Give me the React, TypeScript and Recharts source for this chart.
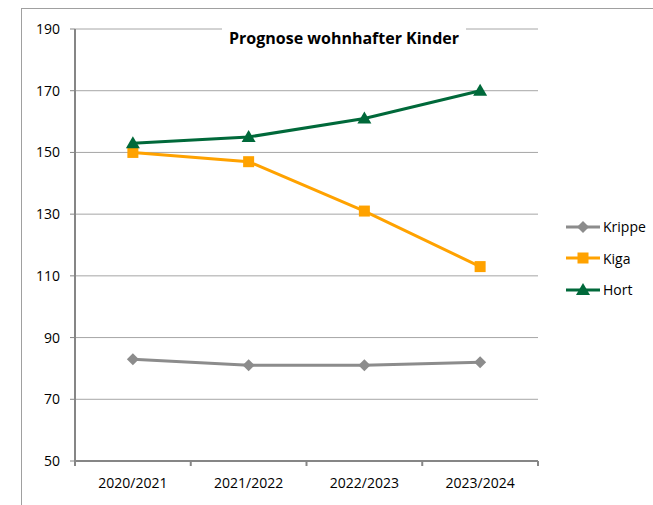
import { LineChart, Line, XAxis, YAxis, CartesianGrid } from "recharts";

const categories = ["2020/2021", "2021/2022", "2022/2023", "2023/2024"];
const krippe = [83, 81, 81, 82];
const kiga = [150, 147, 131, 113];
const hort = [153, 155, 161, 170];
const yTicks = [50, 70, 90, 110, 130, 150, 170, 190];

const data = categories.map((c, i) => ({
  year: c,
  Krippe: krippe[i],
  Kiga: kiga[i],
  Hort: hort[i],
}));

const W = 653;
const H = 505;
const M = { top: 29, right: 115, bottom: 14, left: 25 };
const Y_AXIS_W = 50;
const X_AXIS_H = 30;
const halfBand = (W - M.left - Y_AXIS_W - M.right) / categories.length / 2;

const FONT = "'Open Sans', 'Noto Sans', sans-serif";
const AXIS = "#868686";
const GRID = "#a6a6a6";

const series = [
  { key: "Krippe", color: "#8c8c8c", shape: "diamond" },
  { key: "Kiga", color: "#ffa200", shape: "square" },
  { key: "Hort", color: "#00693a", shape: "triangle" },
];

function Marker({ cx, cy, shape, color }: any) {
  if (cx == null || cy == null) return null;
  if (shape === "diamond") {
    const r = 6;
    return <polygon points={`${cx},${cy - r} ${cx + r},${cy} ${cx},${cy + r} ${cx - r},${cy}`} fill={color} />;
  }
  if (shape === "square") {
    return <rect x={cx - 5.5} y={cy - 5.5} width={11} height={11} fill={color} />;
  }
  return <polygon points={`${cx},${cy - 7} ${cx + 7},${cy + 5} ${cx - 7},${cy + 5}`} fill={color} />;
}

function XTick({ x, y, payload, index }: any) {
  return (
    <g>
      <line x1={x - halfBand} y1={y} x2={x - halfBand} y2={y + 5} stroke={AXIS} strokeWidth={2} />
      {index === categories.length - 1 && (
        <line x1={x + halfBand} y1={y} x2={x + halfBand} y2={y + 5} stroke={AXIS} strokeWidth={2} />
      )}
      <text x={x} y={y + 27} textAnchor="middle" fontSize={14} fontFamily={FONT} fill="#000">
        {payload.value}
      </text>
    </g>
  );
}

function LegendBox() {
  return (
    <div style={{ fontFamily: FONT, fontSize: 14, color: "#000" }}>
      {series.map((s) => (
        <div key={s.key} style={{ display: "flex", alignItems: "center", height: 31.5 }}>
          <svg width={38} height={16}>
            <line x1={2} y1={8} x2={36} y2={8} stroke={s.color} strokeWidth={3} />
            <Marker cx={19} cy={8} shape={s.shape} color={s.color} />
          </svg>
          <span style={{ marginLeft: 1 }}>{s.key}</span>
        </div>
      ))}
    </div>
  );
}

export default function App() {
  return (
    <div style={{ position: "fixed", left: 0, top: 0, width: W, height: H, background: "#fff" }}>
      <div
        style={{
          position: "absolute",
          left: 21,
          top: 8,
          width: W - 21,
          height: H - 8,
          borderTop: "1px solid #a0a0a0",
          borderLeft: "1px solid #a0a0a0",
          boxSizing: "border-box",
        }}
      />
      <LineChart width={W} height={H} data={data} margin={M}>
        <CartesianGrid vertical={false} stroke={GRID} strokeWidth={1} />
        <XAxis
          dataKey="year"
          height={X_AXIS_H}
          padding={{ left: halfBand, right: halfBand }}
          axisLine={{ stroke: AXIS, strokeWidth: 2 }}
          tickLine={false}
          tickSize={0}
          tickMargin={0}
          tick={<XTick />}
          interval={0}
        />
        <YAxis
          width={Y_AXIS_W}
          domain={[50, 190]}
          ticks={yTicks}
          interval={0}
          axisLine={{ stroke: AXIS, strokeWidth: 2 }}
          tickLine={{ stroke: AXIS, strokeWidth: 1 }}
          tickSize={5}
          tickMargin={10}
          tick={{ fontSize: 14, fontFamily: FONT, fill: "#000" }}
        />
        {series.map((s) => (
          <Line
            key={s.key}
            type="linear"
            dataKey={s.key}
            stroke={s.color}
            strokeWidth={3}
            dot={(p: any) => <Marker key={`${s.key}-${p.index}`} cx={p.cx} cy={p.cy} shape={s.shape} color={s.color} />}
            activeDot={false}
            isAnimationActive={false}
          />
        ))}
      </LineChart>
      <div style={{ position: "absolute", left: 564, top: 211, width: 90 }}>
        <LegendBox />
      </div>
      <div
        style={{
          position: "absolute",
          left: 222,
          top: 27,
          width: 244,
          height: 22,
          background: "#fff",
          fontFamily: FONT,
          fontWeight: 700,
          fontSize: 16,
          lineHeight: "22px",
          textAlign: "center",
          color: "#000",
          whiteSpace: "nowrap",
        }}
      >
        Prognose wohnhafter Kinder
      </div>
    </div>
  );
}
